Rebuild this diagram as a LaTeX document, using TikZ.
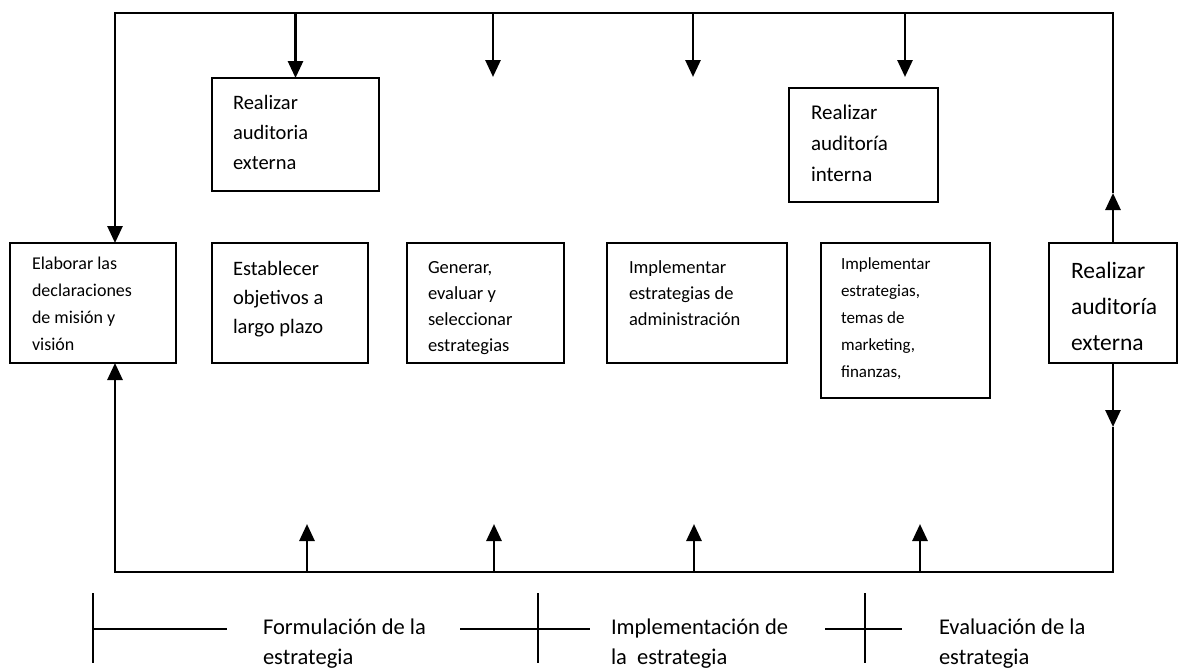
\documentclass[tikz,border=0pt]{standalone}
\usepackage{fontspec}
\setmainfont{Carlito}
\usetikzlibrary{arrows.meta}
\tikzset{
  box/.style={draw, line width=1.8pt, inner sep=0pt, outer sep=0pt, anchor=north west},
  txt/.style={anchor=north west, align=left, inner sep=0pt, outer sep=0pt},
  arr/.style={line width=2.8pt, -{Triangle[width=15pt,length=17pt]}},
  brk/.style={line width=1.5pt},
}
\begin{document}
\begin{tikzpicture}[x=1pt,y=-1pt]
\useasboundingbox (0,0) rectangle (1179,672);
\fill[white] (0,0) rectangle (1179,672);
% boxes
\node[box, minimum width=167pt, minimum height=113pt] (bA) at (212,78) {};
\node[box, minimum width=149pt, minimum height=114pt] (bB) at (789,88) {};
\node[box, minimum width=166pt, minimum height=120pt] (b1) at (10,243) {};
\node[box, minimum width=156pt, minimum height=120pt] (b2) at (212,243) {};
\node[box, minimum width=157pt, minimum height=120pt] (b3) at (407,243) {};
\node[box, minimum width=180pt, minimum height=120pt] (b4) at (607,243) {};
\node[box, minimum width=169pt, minimum height=155pt] (b5) at (821,243) {};
\node[box, minimum width=128pt, minimum height=120pt] (b6) at (1049,243) {};
% texts
\node[txt, font=\fontsize{20.5}{30}\selectfont] (tA) at (233,95) {Realizar\\auditoria\\externa};
\node[txt, font=\fontsize{21}{31}\selectfont] (tB) at (811,105) {Realizar\\auditoría\\interna};
\node[txt, font=\fontsize{18}{27}\selectfont] (t1) at (32,257) {Elaborar las\\declaraciones\\de misión y\\visión};
\node[txt, font=\fontsize{20.5}{29}\selectfont] (t2) at (233,261) {Establecer\\objetivos a\\largo plazo};
\node[txt, font=\fontsize{18.5}{26}\selectfont] (t3) at (428,261) {Generar,\\evaluar y\\seleccionar\\estrategias};
\node[txt, font=\fontsize{18.5}{26}\selectfont] (t4) at (629,261) {Implementar\\estrategias de\\administración};
\node[txt, font=\fontsize{17}{27}\selectfont] (t5) at (841,258) {Implementar\\estrategias,\\temas de\\marketing,\\finanzas,};
\node[txt, font=\fontsize{23.5}{36}\selectfont] (t6) at (1071,262) {Realizar\\auditoría\\externa};
% frame coordinates
\coordinate (tl) at (115,13);
\coordinate (tr) at (1113,13);
\coordinate (bl) at (115,572);
\coordinate (br) at (1113,572);
\coordinate (upTip) at (1113,193);
\coordinate (downTip) at (1113,427);
\coordinate (d2) at (493,77);
\coordinate (d3) at (693,77);
\coordinate (d4) at (905,77);
\coordinate (u1) at (307,524);
\coordinate (u2) at (494,524);
\coordinate (u3) at (694,524);
\coordinate (u4) at (920,524);
% connectors
\draw[arr] (upTip) -- (tr) -- (tl) -- (tl |- b1.north);
\draw[arr] (b6.north) -- (upTip);
\draw[arr] (b6.south) -- (downTip);
\draw[arr] (downTip) -- (br) -- (bl) -- (bl |- b1.south);
\draw[arr] (bA.north |- tl) -- (bA.north);
\draw[arr] (d2 |- tl) -- (d2);
\draw[arr] (d3 |- tl) -- (d3);
\draw[arr] (d4 |- tl) -- (d4);
\draw[arr] (u1 |- bl) -- (u1);
\draw[arr] (u2 |- bl) -- (u2);
\draw[arr] (u3 |- bl) -- (u3);
\draw[arr] (u4 |- bl) -- (u4);
% phase scale
\draw[brk] (93,593) -- (93,663) (93,629) -- (227,629);
\draw[brk] (538,593) -- (538,663) (460,629) -- (590,629);
\draw[brk] (865,593) -- (865,663) (825,629) -- (902,629);
\node[txt, font=\fontsize{22.5}{30}\selectfont] (p1) at (263,619) {Formulación de la\\estrategia};
\node[txt, font=\fontsize{22.5}{30}\selectfont] (p2) at (611,619) {Implementación de\\la~ estrategia};
\node[txt, font=\fontsize{22.5}{30}\selectfont] (p3) at (939,619) {Evaluación de la\\estrategia};
\end{tikzpicture}
\end{document}
